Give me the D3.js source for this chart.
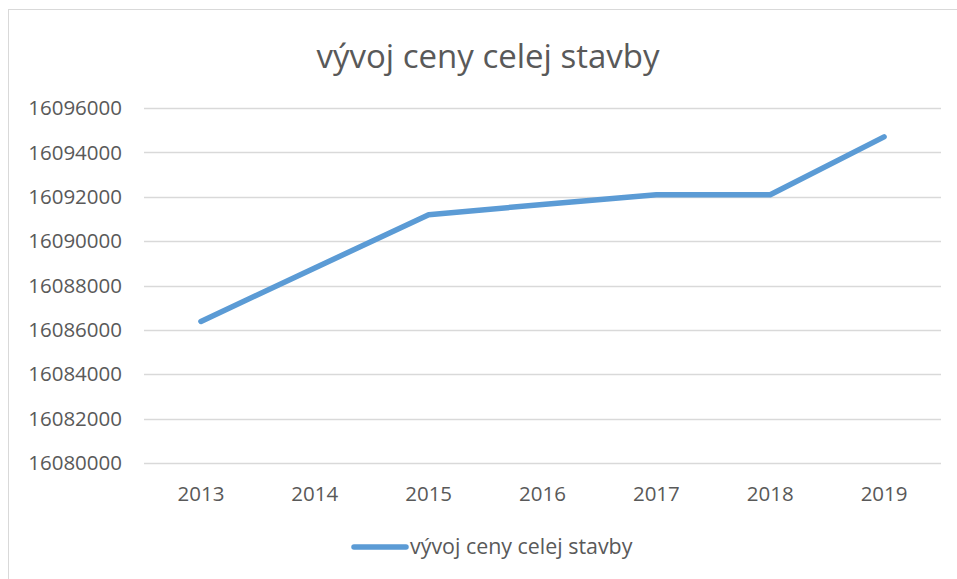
<!DOCTYPE html>
<html lang="sk">
<head>
<meta charset="UTF-8">
<title>vývoj ceny celej stavby</title>
<script src="https://cdn.jsdelivr.net/npm/d3@7"></script>
<style>
  html, body { margin: 0; padding: 0; background: #fff; }
  svg { display: block; font-family: "Open Sans", sans-serif; }
</style>
</head>
<body>
<svg id="chart" width="957" height="579"></svg>
<script>
const years  = ["2013", "2014", "2015", "2016", "2017", "2018", "2019"];
const prices = [16086380, 16088790, 16091190, 16091650, 16092090, 16092090, 16094700];
const yTicks = [16080000, 16082000, 16084000, 16086000, 16088000, 16090000, 16092000, 16094000, 16096000];
const title  = "vývoj ceny celej stavby";

const svg = d3.select("#chart");
const textColor = "#595959", gridColor = "#d9d9d9", lineColor = "#5b9bd5";

// chart frame
svg.append("rect")
  .attr("x", 8.5).attr("y", 9.5)
  .attr("width", 960).attr("height", 580)
  .attr("fill", "none").attr("stroke", gridColor);

const plot = { left: 144, right: 941, top: 108, bottom: 463 };

const x = d3.scaleBand().domain(years).range([plot.left, plot.right]);
const y = d3.scaleLinear().domain([16080000, 16096000]).range([plot.bottom, plot.top]);

// gridlines
svg.append("g")
  .selectAll("line")
  .data(yTicks)
  .join("line")
    .attr("x1", plot.left).attr("x2", plot.right)
    .attr("y1", d => Math.round(y(d)) + 0.5)
    .attr("y2", d => Math.round(y(d)) + 0.5)
    .attr("stroke", gridColor).attr("stroke-width", 1.3);

// y labels
svg.append("g")
  .selectAll("text")
  .data(yTicks)
  .join("text")
    .attr("x", 122).attr("y", d => y(d))
    .attr("dy", "0.35em")
    .attr("text-anchor", "end")
    .attr("font-size", 20.5)
    .attr("fill", textColor)
    .text(d => d);

// x labels
svg.append("g")
  .selectAll("text")
  .data(years)
  .join("text")
    .attr("x", d => x(d) + x.bandwidth() / 2)
    .attr("y", 501)
    .attr("text-anchor", "middle")
    .attr("font-size", 20.5)
    .attr("fill", textColor)
    .text(d => d);

// title
svg.append("text")
  .attr("x", 488).attr("y", 68)
  .attr("text-anchor", "middle")
  .attr("font-size", 33)
  .attr("fill", textColor)
  .text(title);

// series
const line = d3.line()
  .x((d, i) => x(years[i]) + x.bandwidth() / 2)
  .y(d => y(d));

svg.append("path")
  .datum(prices)
  .attr("d", line)
  .attr("fill", "none")
  .attr("stroke", lineColor)
  .attr("stroke-width", 5.5)
  .attr("stroke-linecap", "round")
  .attr("stroke-linejoin", "round");

// legend
const lg = svg.append("g");
lg.append("line")
  .attr("x1", 354).attr("x2", 406)
  .attr("y1", 547).attr("y2", 547)
  .attr("stroke", lineColor).attr("stroke-width", 5.5)
  .attr("stroke-linecap", "round");
lg.append("text")
  .attr("x", 410).attr("y", 547)
  .attr("dy", "0.35em")
  .attr("font-size", 21.4)
  .attr("fill", textColor)
  .text(title);
</script>
</body>
</html>
